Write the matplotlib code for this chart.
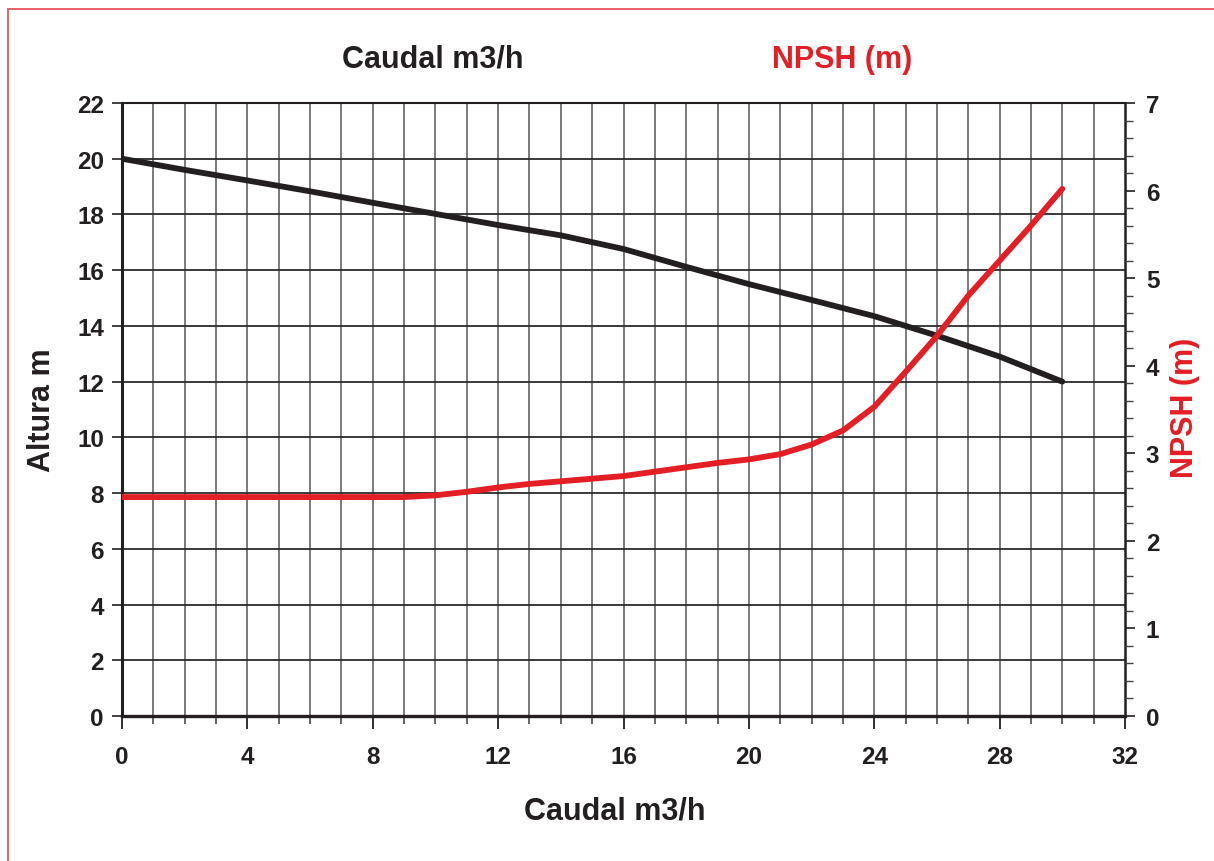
"""Pump curve: head (Altura) and NPSH vs flow (Caudal)."""
import matplotlib
matplotlib.use("Agg")
import matplotlib.pyplot as plt
from matplotlib.patches import Rectangle
from matplotlib.ticker import MultipleLocator

# --- data ---
flow_head = [0, 2, 4, 6, 8, 10, 12, 14, 16, 18, 20, 22, 24, 26, 28, 30]
head = [20.0, 19.6, 19.22, 18.83, 18.42, 18.02, 17.62, 17.25, 16.76, 16.12,
        15.5, 14.93, 14.35, 13.65, 12.9, 12.0]

flow_npsh = [0, 2, 4, 6, 8, 9, 10, 11, 12, 13, 14, 15, 16, 17, 18, 19, 20,
             21, 22, 23, 24, 25, 26, 27, 28, 29, 30]
npsh = [2.5, 2.5, 2.5, 2.5, 2.5, 2.5, 2.52, 2.56, 2.61, 2.65, 2.68, 2.71, 2.74,
        2.79, 2.84, 2.89, 2.93, 2.99, 3.1, 3.26, 3.53, 3.93, 4.34, 4.8, 5.2,
        5.6, 6.02]

x_ticks = [0, 4, 8, 12, 16, 20, 24, 28, 32]
left_ticks = [0, 2, 4, 6, 8, 10, 12, 14, 16, 18, 20, 22]
right_ticks = [0, 1, 2, 3, 4, 5, 6, 7]

RED = "#e31e24"
INK = "#231f20"

plt.rcParams.update({
    "font.family": ["Liberation Sans", "DejaVu Sans"],
    "font.weight": "bold",
})

W, H = 1214, 862
fig = plt.figure(figsize=(W / 100, H / 100), dpi=100, facecolor="white")
ax = fig.add_axes([122 / W, 1 - 717 / H, (1125 - 122) / W, (717 - 104) / H])

# red frame (only top/left visible in the source)
fig.patches.append(Rectangle((8 / W, -0.05), 1.1, 1 - 10 / H + 0.05,
                             transform=fig.transFigure, fill=False,
                             edgecolor="#e8535a", lw=1.3))

ax.set_xlim(0, 32)
ax.set_ylim(0, 22)

# grid: vertical every 1, horizontal every 2
for xv in range(1, 32):
    ax.axvline(xv, color="#7a7a7a", lw=1.4, zorder=1)
for yv in left_ticks[1:-1]:
    ax.axhline(yv, color="#2b2b2b", lw=1.3, zorder=1)

ax.plot(flow_head, head, color=INK, lw=4.2, solid_capstyle="round", zorder=3)

ax.set_xticks(x_ticks)
ax.xaxis.set_minor_locator(MultipleLocator(1))
ax.set_yticks(left_ticks)
ax.tick_params(axis="x", which="major", length=9, width=1.3, color=INK,
               labelsize=17.5, pad=12, labelcolor=INK)
ax.tick_params(axis="x", which="minor", length=6, width=1.3, color="#555")
ax.tick_params(axis="y", which="major", length=7, width=1.2, color=INK,
               labelsize=17.5, pad=6, labelcolor=INK)
for s in ax.spines.values():
    s.set_color(INK)
ax.spines["left"].set_linewidth(2.2)
ax.spines["bottom"].set_linewidth(2.4)
ax.spines["top"].set_linewidth(1.5)
ax.spines["right"].set_linewidth(1.8)

ax2 = ax.twinx()
ax2.set_ylim(0, 7)
ax2.set_yticks(right_ticks)
ax2.yaxis.set_minor_locator(MultipleLocator(0.2))
ax2.tick_params(axis="y", which="major", length=7, width=1.2, color=INK,
                labelsize=17.5, pad=8, labelcolor=INK)
ax2.tick_params(axis="y", which="minor", length=6, width=1.0, color="#444")
for s in ax2.spines.values():
    s.set_visible(False)
ax2.plot(flow_npsh, npsh, color=RED, lw=4.2, solid_capstyle="round", zorder=3)

# labels
fig.text(433 / W, 1 - 60 / H, "Caudal m3/h", ha="center", va="center",
         fontsize=22, weight="bold", color=INK)
fig.text(842 / W, 1 - 60 / H, "NPSH (m)", ha="center", va="center",
         fontsize=22, weight="bold", color=RED)
fig.text(615 / W, 1 - 812 / H, "Caudal m3/h", ha="center", va="center",
         fontsize=22, weight="bold", color=INK)
fig.text(42 / W, 1 - 410 / H, "Altura m", ha="center", va="center",
         rotation=90, fontsize=22, weight="bold", color=INK)
fig.text(1185 / W, 1 - 408 / H, "NPSH (m)", ha="center", va="center",
         rotation=90, fontsize=22, weight="bold", color=RED)

fig.savefig("out.png", dpi=100, facecolor="white")
